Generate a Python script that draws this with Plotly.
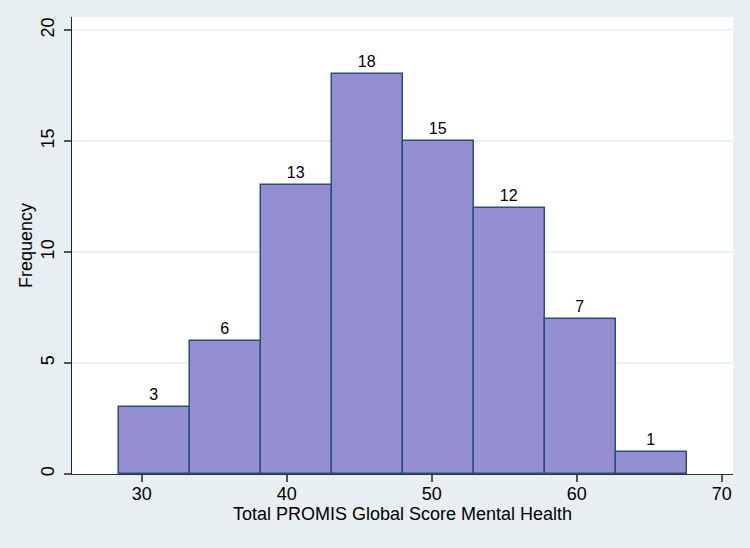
import plotly.graph_objects as go

bin_edges = [28.4, 33.3, 38.2, 43.1, 48.0, 52.9, 57.8, 62.7, 67.6]
counts = [3, 6, 13, 18, 15, 12, 7, 1]
x_ticks = [30, 40, 50, 60, 70]
y_ticks = [0, 5, 10, 15, 20]

centers = [(a + b) / 2 for a, b in zip(bin_edges[:-1], bin_edges[1:])]
widths = [b - a for a, b in zip(bin_edges[:-1], bin_edges[1:])]

FONT = "Liberation Sans, Arial, Helvetica, sans-serif"

fig = go.Figure(go.Bar(
    x=centers, y=counts, width=widths,
    marker=dict(color="#928ed0", line=dict(color="#2b4f7a", width=1.5)),
    text=[str(c) for c in counts], textposition="outside",
    textfont=dict(size=16, color="black", family=FONT),
    cliponaxis=False,
))

fig.update_layout(
    width=750, height=548,
    margin=dict(l=72, r=17, t=17, b=74),
    paper_bgcolor="#e8eff2", plot_bgcolor="white",
    font=dict(family=FONT, color="black"),
    showlegend=False,
    bargap=0,
)
fig.update_xaxes(
    range=[25.19, 70.78], tickvals=x_ticks, ticks="outside", ticklen=7,
    tickcolor="#555555", tickwidth=1.5, showgrid=False, zeroline=False,
    showline=True, linecolor="#333333", linewidth=1.2,
    tickfont=dict(size=18), ticklabelstandoff=-4,
    title=dict(text="Total PROMIS Global Score Mental Health", font=dict(size=18), standoff=0),
)
fig.update_yaxes(
    range=[0, 20.59], tickvals=y_ticks, ticks="outside", ticklen=7,
    tickcolor="#555555", tickwidth=1.5, showgrid=True, gridcolor="#eaf1f4", gridwidth=1.5,
    zeroline=False, showline=True, linecolor="#222222", linewidth=1.2,
    tickangle=-90, tickfont=dict(size=18), ticklabelstandoff=3,
    title=dict(text="Frequency", font=dict(size=18), standoff=0),
)

fig.write_html("out.html", config={"displayModeBar": False},
               post_script="document.body.style.margin='0';document.body.style.background='#e8eff2';")
